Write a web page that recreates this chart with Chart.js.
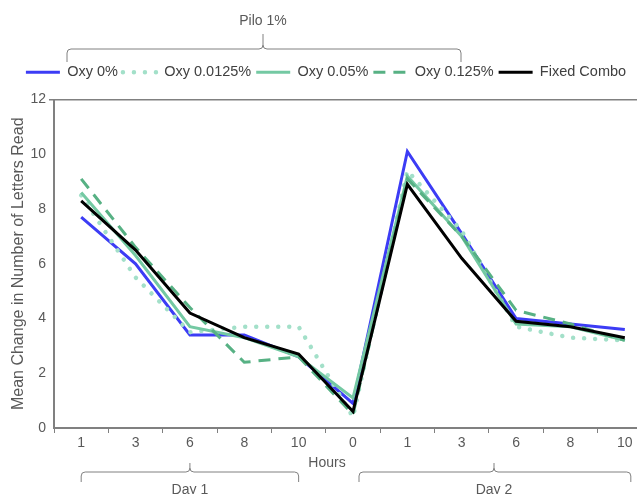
<!DOCTYPE html>
<html>
<head>
<meta charset="utf-8">
<script src="https://cdn.jsdelivr.net/npm/chart.js@4/dist/chart.umd.min.js"></script>
<style>
  html, body { margin: 0; padding: 0; background: #fff; overflow: hidden; }
  #wrap { width: 660px; height: 494px; }
</style>
</head>
<body>
<div id="wrap"><canvas id="c" width="660" height="494"></canvas></div>
<script>
// ---- data ----
const hours = ['1', '3', '6', '8', '10', '0', '1', '3', '6', '8', '10'];
const oxy0      = [7.7, 6.0, 3.4, 3.4, 2.6, 0.9, 10.1, 7.1, 4.0, 3.8, 3.6];
const oxy00125  = [8.5, 5.5, 3.5, 3.7, 3.7, 0.4, 9.4, 7.2, 3.7, 3.3, 3.2];
const oxy005    = [8.6, 6.3, 3.7, 3.3, 2.6, 1.1, 9.2, 7.0, 3.8, 3.7, 3.2];
const oxy0125   = [9.1, 6.6, 4.4, 2.4, 2.6, 0.5, 9.1, 7.0, 4.3, 3.8, 3.2];
const fixedCombo = [8.3, 6.5, 4.2, 3.3, 2.7, 0.6, 8.9, 6.2, 3.9, 3.7, 3.3];
const seriesNames = ['Oxy 0%', 'Oxy 0.0125%', 'Oxy 0.05%', 'Oxy 0.125%', 'Fixed Combo'];
const yTicks = [0, 2, 4, 6, 8, 10, 12];
const groupLabel = 'Pilo 1%';
const dayLabels = ['Day 1', 'Day 2'];
const xTitle = 'Hours';
const yTitle = 'Mean Change in Number of Letters Read';

const TXT = '#595959';
const AXIS = '#808080';
const FONT = '"Liberation Sans", Arial, sans-serif';

function bracket(ctx, x1, x2, xm, y, endY, stemY) {
  const r = 4;
  ctx.beginPath();
  ctx.moveTo(x1, endY);
  ctx.lineTo(x1, y + r);
  ctx.quadraticCurveTo(x1, y, x1 + r, y);
  ctx.lineTo(xm - r, y);
  ctx.quadraticCurveTo(xm, y, xm, y - r);
  ctx.lineTo(xm, stemY);
  ctx.moveTo(xm, y - r);
  ctx.quadraticCurveTo(xm, y, xm + r, y);
  ctx.lineTo(x2 - r, y);
  ctx.quadraticCurveTo(x2, y, x2, y + r);
  ctx.lineTo(x2, endY);
  ctx.stroke();
}

const legendSpacer = {
  id: 'legendSpacer',
  beforeLayout(chart) {
    const lg = chart.legend;
    if (lg && !lg._spaced) {
      const f = lg.fit;
      lg.fit = function () { f.call(this); this.height += 10; };
      lg._spaced = true;
    }
  }
};

const annot = {
  id: 'annot',
  afterDraw(chart) {
    const ctx = chart.ctx;
    const xs = chart.scales.x;
    ctx.save();
    ctx.strokeStyle = AXIS;
    ctx.lineWidth = 1;
    bracket(ctx, 67, 461, 263, 49, 62, 34);
    const p = i => xs.getPixelForValue(i);
    const d1a = p(0), d1b = p(4), d2a = p(5) + 6, d2b = p(10) + 6;
    bracket(ctx, d1a, d1b, (d1a + d1b) / 2, 472, 482, 463);
    bracket(ctx, d2a, d2b, 494, 472, 482, 463);
    ctx.fillStyle = TXT;
    ctx.font = '14px ' + FONT;
    ctx.textAlign = 'center';
    ctx.textBaseline = 'middle';
    ctx.fillText(groupLabel, 263, 21);
    ctx.fillText(xTitle, 327, 463);
    ctx.fillText(dayLabels[0], (d1a + d1b) / 2, 490);
    ctx.fillText(dayLabels[1], 494, 490);
    ctx.restore();
  }
};

const colors = ['#3c3cf5', '#a3e0c9', '#74c9a3', '#57b184', '#000000'];
const widths = [3, 4.5, 3, 3, 3];
const dashes = [[], [0.01, 11], [], [12, 8], []];
const caps = ['butt', 'round', 'butt', 'butt', 'butt'];
const values = [oxy0, oxy00125, oxy005, oxy0125, fixedCombo];

new Chart(document.getElementById('c'), {
  type: 'line',
  data: {
    labels: hours,
    datasets: seriesNames.map((n, i) => ({
      label: n,
      data: values[i],
      borderColor: colors[i],
      backgroundColor: colors[i],
      borderWidth: widths[i],
      borderDash: dashes[i],
      borderCapStyle: caps[i],
      pointRadius: 0,
      pointHoverRadius: 0,
      tension: 0,
      fill: false,
      order: 4 - i
    }))
  },
  options: {
    responsive: false,
    animation: false,
    events: [],
    layout: { padding: { top: 60, right: 8, left: 0, bottom: 0 } },
    plugins: {
      legend: {
        display: true,
        position: 'top',
        labels: {
          usePointStyle: true,
          pointStyle: 'line',
          pointStyleWidth: 34,
          font: { size: 14.5, family: FONT },
          color: '#404040',
          padding: 5,
          generateLabels(chart) {
            return chart.data.datasets.map((ds, i) => ({
              text: ds.label,
              fillStyle: ds.borderColor,
              strokeStyle: ds.borderColor,
              lineWidth: ds.borderWidth,
              lineDash: ds.borderDash,
              lineCap: ds.borderCapStyle,
              pointStyle: 'line',
              fontColor: '#404040',
              hidden: false,
              datasetIndex: i
            }));
          }
        }
      },
      tooltip: { enabled: false },
      title: { display: false }
    },
    scales: {
      x: {
        type: 'category',
        offset: true,
        afterFit(s) { s.height = 66; },
        grid: {
          offset: true,
          drawOnChartArea: false,
          drawTicks: true,
          tickLength: 5,
          color: AXIS,
          lineWidth: 1
        },
        border: { display: true, color: AXIS, width: 2 },
        ticks: {
          color: TXT,
          font: { size: 14, family: FONT },
          padding: 2,
          maxRotation: 0,
          autoSkip: false
        },
        title: { display: false }
      },
      y: {
        min: 0,
        max: 12,
        afterFit(s) { s.width = 54; },
        afterBuildTicks(s) { s.ticks = yTicks.map(v => ({ value: v })); },
        grid: {
          drawOnChartArea: true,
          drawTicks: true,
          tickLength: 5,
          color: c => (c.tick && c.tick.value === 12) ? AXIS : 'rgba(0,0,0,0)',
          lineWidth: 1.5
        },
        border: { display: true, color: AXIS, width: 2 },
        ticks: {
          color: TXT,
          font: { size: 14, family: FONT },
          padding: 3
        },
        title: {
          display: true,
          text: yTitle,
          color: TXT,
          font: { size: 16, family: FONT },
          padding: { top: 9, bottom: 0 }
        }
      }
    }
  },
  plugins: [legendSpacer, annot]
});
</script>
</body>
</html>
